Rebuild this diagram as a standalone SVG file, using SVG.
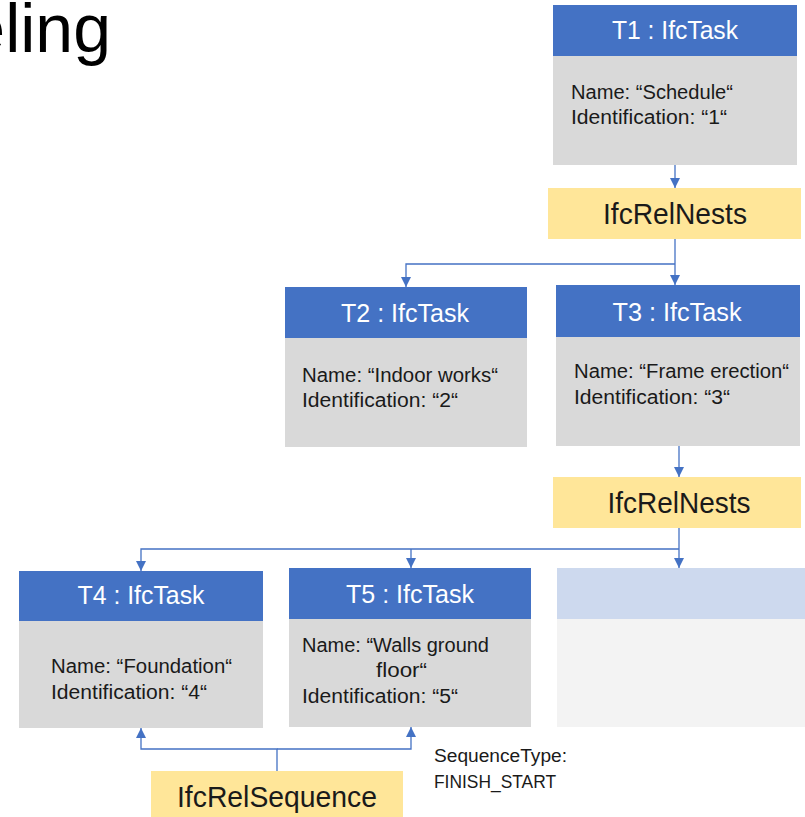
<svg xmlns="http://www.w3.org/2000/svg" width="805" height="817" viewBox="0 0 805 817">
  <defs>
    <marker id="arrow" markerUnits="userSpaceOnUse" markerWidth="11" markerHeight="11" refX="10" refY="5" orient="auto">
      <path d="M0,0 L10,5 L0,10 z" fill="#4472C4"/>
    </marker>
    <style>
      text { font-family: "Liberation Sans", Arial, sans-serif; }
      .title { font-size: 68px; fill: #000; }
      .head { fill: #4472C4; }
      .body { fill: #D9D9D9; }
      .rel { fill: #FFE699; }
      .head-empty { fill: #CDD9EE; }
      .body-empty { fill: #F3F3F3; }
      .htxt { font-size: 25px; fill: #FFFFFF; text-anchor: middle; }
      .btxt { font-size: 19.5px; fill: #1A1A1A; }
      .rtxt { font-size: 29px; fill: #1A1A1A; text-anchor: middle; }
      .note { font-size: 18px; fill: #1A1A1A; }
      .conn { fill: none; stroke: #4472C4; stroke-width: 1.3; }
    </style>
  </defs>

  <rect width="805" height="817" fill="#FFFFFF"/>

  <!-- heading fragment at the top-left edge -->
  <text class="title" x="111" y="52" text-anchor="end">eling</text>

  <!-- connectors -->
  <g id="connectors">
    <path class="conn" d="M675,165 V188" marker-end="url(#arrow)"/>
    <path class="conn" d="M675,239 V285" marker-end="url(#arrow)"/>
    <path class="conn" d="M675,264 H406 V287" marker-end="url(#arrow)"/>
    <path class="conn" d="M679,446 V477" marker-end="url(#arrow)"/>
    <path class="conn" d="M679,528 V568" marker-end="url(#arrow)"/>
    <path class="conn" d="M679,549 H141 V571" marker-end="url(#arrow)"/>
    <path class="conn" d="M411,549 V568" marker-end="url(#arrow)"/>
    <path class="conn" d="M277,771 V749 H141 V728" marker-end="url(#arrow)"/>
    <path class="conn" d="M277,749 H411 V727" marker-end="url(#arrow)"/>
  </g>

  <!-- T1 -->
  <g id="T1">
    <rect class="head" x="553" y="5" width="244" height="51"/>
    <rect class="body" x="553" y="56" width="244" height="109"/>
    <text class="htxt" x="675" y="39" textLength="126" lengthAdjust="spacingAndGlyphs">T1 : IfcTask</text>
    <text class="btxt" x="571" y="99" textLength="162" lengthAdjust="spacingAndGlyphs">Name: “Schedule“</text>
    <text class="btxt" x="571" y="124" textLength="156" lengthAdjust="spacingAndGlyphs">Identification: “1“</text>
  </g>

  <!-- IfcRelNests (T1 children) -->
  <g id="RelNests1">
    <rect class="rel" x="548" y="188" width="253" height="51"/>
    <text class="rtxt" x="675" y="224" textLength="144" lengthAdjust="spacingAndGlyphs">IfcRelNests</text>
  </g>

  <!-- T2 -->
  <g id="T2">
    <rect class="head" x="285" y="287" width="242" height="51"/>
    <rect class="body" x="285" y="338" width="242" height="109"/>
    <text class="htxt" x="405" y="322" textLength="128" lengthAdjust="spacingAndGlyphs">T2 : IfcTask</text>
    <text class="btxt" x="302" y="382" textLength="196" lengthAdjust="spacingAndGlyphs">Name: “Indoor works“</text>
    <text class="btxt" x="302" y="407" textLength="156" lengthAdjust="spacingAndGlyphs">Identification: “2“</text>
  </g>

  <!-- T3 -->
  <g id="T3">
    <rect class="head" x="556" y="285" width="244" height="52"/>
    <rect class="body" x="556" y="337" width="244" height="109"/>
    <text class="htxt" x="677" y="321" textLength="129" lengthAdjust="spacingAndGlyphs">T3 : IfcTask</text>
    <text class="btxt" x="574" y="378" textLength="215" lengthAdjust="spacingAndGlyphs">Name: “Frame erection“</text>
    <text class="btxt" x="574" y="404" textLength="156" lengthAdjust="spacingAndGlyphs">Identification: “3“</text>
  </g>

  <!-- IfcRelNests (T3 children) -->
  <g id="RelNests2">
    <rect class="rel" x="553" y="477" width="248" height="51"/>
    <text class="rtxt" x="679" y="513" textLength="143" lengthAdjust="spacingAndGlyphs">IfcRelNests</text>
  </g>

  <!-- T4 -->
  <g id="T4">
    <rect class="head" x="19" y="571" width="244" height="50"/>
    <rect class="body" x="19" y="621" width="244" height="107"/>
    <text class="htxt" x="141" y="604" textLength="127" lengthAdjust="spacingAndGlyphs">T4 : IfcTask</text>
    <text class="btxt" x="51" y="673" textLength="181" lengthAdjust="spacingAndGlyphs">Name: “Foundation“</text>
    <text class="btxt" x="51" y="699" textLength="156" lengthAdjust="spacingAndGlyphs">Identification: “4“</text>
  </g>

  <!-- T5 -->
  <g id="T5">
    <rect class="head" x="289" y="568" width="242" height="51"/>
    <rect class="body" x="289" y="619" width="242" height="108"/>
    <text class="htxt" x="410" y="603" textLength="128" lengthAdjust="spacingAndGlyphs">T5 : IfcTask</text>
    <text class="btxt" x="302" y="652" textLength="187" lengthAdjust="spacingAndGlyphs">Name: “Walls ground</text>
    <text class="btxt" x="376" y="677" textLength="51" lengthAdjust="spacingAndGlyphs">floor“</text>
    <text class="btxt" x="302" y="703" textLength="156" lengthAdjust="spacingAndGlyphs">Identification: “5“</text>
  </g>

  <!-- further nested task, left blank -->
  <g id="T6">
    <rect class="head-empty" x="557" y="568" width="248" height="51"/>
    <rect class="body-empty" x="557" y="619" width="248" height="108"/>
  </g>

  <!-- IfcRelSequence between T4 and T5 -->
  <g id="RelSequence">
    <rect class="rel" x="151" y="771" width="252" height="46"/>
    <text class="rtxt" x="277" y="807" font-size="28" textLength="200" lengthAdjust="spacingAndGlyphs">IfcRelSequence</text>
  </g>

  <g id="SequenceNote">
    <text class="note" x="434" y="762" textLength="133" lengthAdjust="spacingAndGlyphs">SequenceType:</text>
    <text class="note" x="434" y="788" textLength="122" lengthAdjust="spacingAndGlyphs">FINISH_START</text>
  </g>
</svg>
